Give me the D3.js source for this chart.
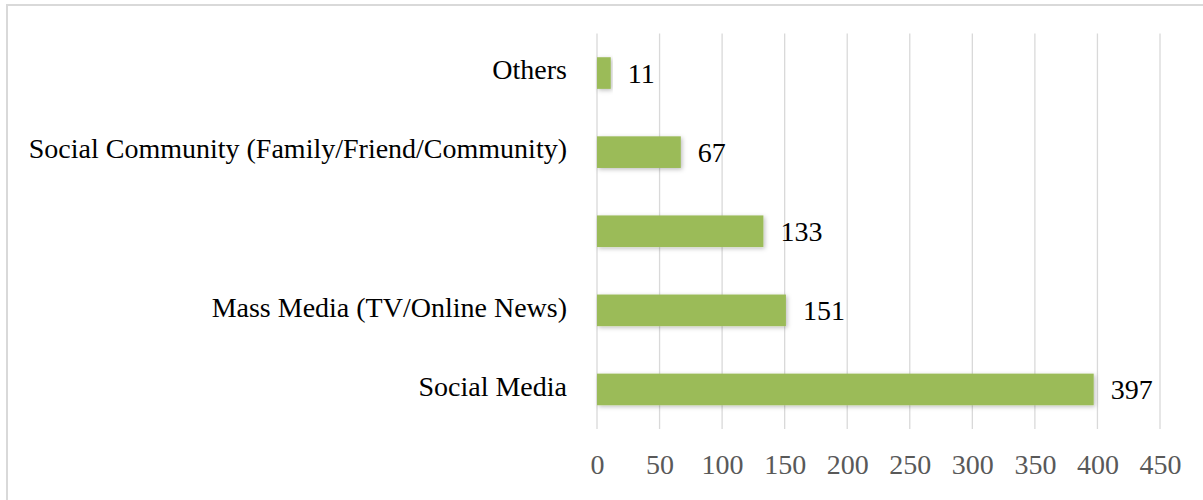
<!DOCTYPE html>
<html>
<head>
<meta charset="utf-8">
<script src="https://cdn.jsdelivr.net/npm/d3@7"></script>
<style>
  html, body { margin: 0; padding: 0; background: #fff; }
  svg { display: block; font-family: "Liberation Serif", "Times New Roman", serif; }
</style>
</head>
<body>
<div id="chart"></div>
<script>
// top to bottom, as in the picture (third label is blank in the source)
const categories = ["Others", "Social Community (Family/Friend/Community)", "", "Mass Media (TV/Online News)", "Social Media"];
const counts = [11, 67, 133, 151, 397];
const xTicks = [0, 50, 100, 150, 200, 250, 300, 350, 400, 450];

const W = 1203, H = 500;
const margin = { top: 33.5, right: 43, bottom: 71, left: 597 };
const width = W - margin.left - margin.right;
const height = H - margin.top - margin.bottom;
const FONT = '"Liberation Serif", "Times New Roman", serif';

const svg = d3.select('#chart').append('svg')
  .attr('width', W)
  .attr('height', H);

// chart frame
svg.append('rect')
  .attr('x', 7).attr('y', 5)
  .attr('width', 1210).attr('height', 510)
  .attr('fill', 'none')
  .attr('stroke', '#d9d9d9')
  .attr('stroke-width', 2);

const defs = svg.append('defs');
const shadow = defs.append('filter')
  .attr('id', 'barShadow')
  .attr('x', '-10%').attr('y', '-30%')
  .attr('width', '120%').attr('height', '160%');
shadow.append('feDropShadow')
  .attr('dx', 1.5).attr('dy', 1.5)
  .attr('stdDeviation', 2)
  .attr('flood-color', '#000')
  .attr('flood-opacity', 0.25);

const g = svg.append('g')
  .attr('transform', `translate(${margin.left},${margin.top})`);

const x = d3.scaleLinear()
  .domain([0, 450])
  .range([0, width]);

const y = d3.scaleBand()
  .domain(d3.range(categories.length))
  .range([0, height])
  .paddingInner(0.6)
  .paddingOuter(0.3);

// vertical gridlines
g.append('g')
  .selectAll('line')
  .data(xTicks)
  .join('line')
  .attr('x1', d => x(d)).attr('x2', d => x(d))
  .attr('y1', 0).attr('y2', height)
  .attr('stroke', '#d9d9d9')
  .attr('stroke-width', 1.3);

// x axis labels
const xAxis = g.append('g')
  .attr('transform', `translate(0,${height})`)
  .call(d3.axisBottom(x).tickValues(xTicks).tickSize(0).tickPadding(25));
xAxis.select('.domain').remove();
xAxis.attr('font-family', FONT);
xAxis.selectAll('text')
  .style('font-family', FONT)
  .style('font-size', '28px')
  .attr('fill', '#595959');

// category labels
const yAxis = g.append('g')
  .call(d3.axisLeft(y).tickFormat(i => categories[i]).tickSize(0).tickPadding(30));
yAxis.select('.domain').remove();
yAxis.attr('font-family', FONT);
yAxis.selectAll('text')
  .style('font-family', FONT)
  .style('font-size', '28px')
  .attr('dy', '0.22em')
  .attr('fill', '#000');

// bars
g.append('g')
  .selectAll('rect')
  .data(counts)
  .join('rect')
  .attr('x', x(0))
  .attr('y', (d, i) => y(i))
  .attr('width', d => x(d) - x(0))
  .attr('height', y.bandwidth())
  .attr('fill', '#9bbb59')
  .attr('filter', 'url(#barShadow)');

// value labels
g.append('g')
  .selectAll('text')
  .data(counts)
  .join('text')
  .attr('x', d => x(d) + 17)
  .attr('y', (d, i) => y(i) + y.bandwidth() / 2)
  .attr('dy', '0.35em')
  .attr('font-family', FONT)
  .attr('font-size', '28px')
  .attr('fill', '#000')
  .text(d => d);
</script>
</body>
</html>
